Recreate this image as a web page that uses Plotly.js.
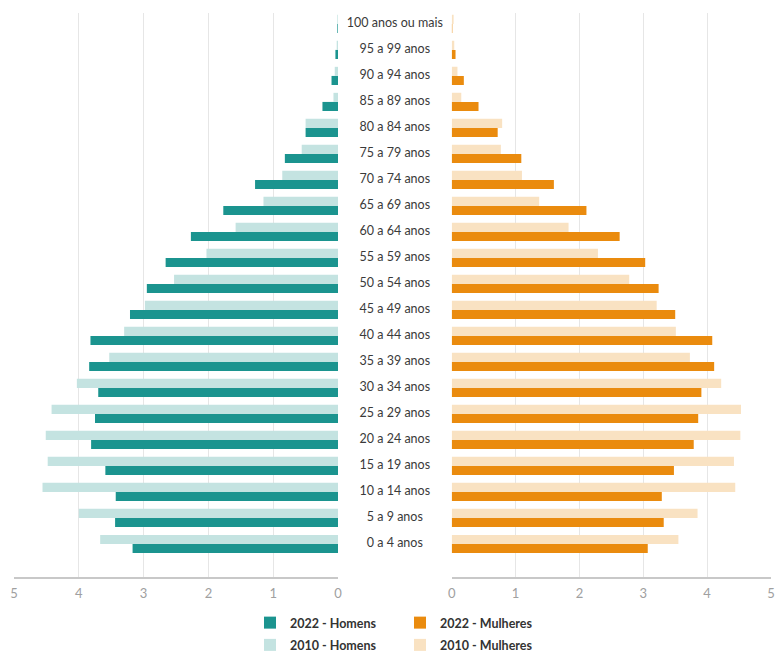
<!DOCTYPE html>
<html>
<head>
<meta charset="utf-8">
<script src="https://cdn.plot.ly/plotly-3.0.1.min.js"></script>
<style>html,body{margin:0;padding:0;background:#fff;}#chart{width:776px;height:656px;}</style>
</head>
<body>
<div id="chart"></div>
<script>
// Age groups, youngest to oldest (bottom to top)
const ageGroups = ["0 a 4 anos","5 a 9 anos","10 a 14 anos","15 a 19 anos","20 a 24 anos","25 a 29 anos","30 a 34 anos","35 a 39 anos","40 a 44 anos","45 a 49 anos","50 a 54 anos","55 a 59 anos","60 a 64 anos","65 a 69 anos","70 a 74 anos","75 a 79 anos","80 a 84 anos","85 a 89 anos","90 a 94 anos","95 a 99 anos","100 anos ou mais"];

// Percent of population
const homens2022   = [3.17,3.44,3.43,3.59,3.81,3.75,3.70,3.84,3.82,3.21,2.95,2.66,2.27,1.77,1.28,0.82,0.50,0.24,0.10,0.04,0.01];
const homens2010   = [3.67,4.00,4.56,4.48,4.51,4.42,4.03,3.53,3.30,2.98,2.53,2.03,1.58,1.15,0.86,0.56,0.50,0.07,0.05,0.02,0.01];
const mulheres2022 = [3.07,3.32,3.29,3.48,3.79,3.86,3.91,4.11,4.08,3.50,3.24,3.03,2.63,2.11,1.60,1.09,0.72,0.42,0.19,0.06,0.01];
const mulheres2010 = [3.55,3.85,4.44,4.42,4.52,4.53,4.22,3.73,3.51,3.21,2.78,2.29,1.83,1.37,1.10,0.77,0.79,0.15,0.09,0.04,0.03];

const xTicks = [0,1,2,3,4,5];

const cDarkTeal = "#1b948f", cLightTeal = "#c4e3e1", cOrange = "#ea8b0e", cPeach = "#f9e2c2";

const traces = [
  {type:"bar", orientation:"h", name:"2022 - Homens", y:ageGroups, x:homens2022, xaxis:"x", yaxis:"y",
   marker:{color:cDarkTeal}, legend:"legend", legendgroup:"h22", legendrank:1, hoverinfo:"x+y"},
  {type:"bar", orientation:"h", name:"2010 - Homens", y:ageGroups, x:homens2010, xaxis:"x", yaxis:"y",
   marker:{color:cLightTeal}, legend:"legend", legendgroup:"h10", legendrank:2, hoverinfo:"x+y"},
  {type:"bar", orientation:"h", name:"2022 - Mulheres", y:ageGroups, x:mulheres2022, xaxis:"x2", yaxis:"y",
   marker:{color:cOrange}, legend:"legend2", legendgroup:"m22", legendrank:1, hoverinfo:"x+y"},
  {type:"bar", orientation:"h", name:"2010 - Mulheres", y:ageGroups, x:mulheres2010, xaxis:"x2", yaxis:"y",
   marker:{color:cPeach}, legend:"legend2", legendgroup:"m10", legendrank:2, hoverinfo:"x+y"},
  {type:"scatter", mode:"text", y:ageGroups, x:ageGroups.map(() => 0), text:ageGroups,
   xaxis:"x3", yaxis:"y", showlegend:false, hoverinfo:"skip",
   textfont:{family:"Lato, sans-serif", size:12.5, color:"#3a3a3a"}}
];

const W = 776;
const axisCommon = {
  tickvals: xTicks, ticktext: xTicks.map(String), showgrid:true, gridcolor:"#e6e6e6", gridwidth:1,
  zeroline:false, showline:true, linecolor:"#c8c8c8", linewidth:2, ticks:"", ticklabelstandoff:3,
  ticklabeloverflow:"allow",
  tickfont:{family:"Lato, sans-serif", size:13, color:"#a0a0a0"}, fixedrange:true
};

const legendCommon = {
  xanchor:"left", y:(656-608)/656, yref:"container", yanchor:"top",
  orientation:"v", traceorder:"grouped", tracegroupgap:3, itemclick:false, itemdoubleclick:false,
  font:{family:"Lato, sans-serif", size:12.5, color:"#333", weight:700}, bgcolor:"rgba(0,0,0,0)"
};

const layout = {
  width: 776, height: 656,
  margin:{l:0, r:0, t:13, b:79},
  paper_bgcolor:"#fff", plot_bgcolor:"rgba(0,0,0,0)",
  barmode:"group", bargap:0.3, bargroupgap:0,
  showlegend:true,
  xaxis: Object.assign({}, axisCommon, {domain:[14/W, 338/W], range:[5,0]}),
  xaxis2: Object.assign({}, axisCommon, {domain:[451.7/W, 771/W], range:[0,5]}),
  xaxis3: {domain:[338/W, 451.7/W], range:[-1,1], visible:false, fixedrange:true},
  yaxis: {type:"category", categoryorder:"array", categoryarray:ageGroups, range:[-1.27, 20.42],
          showticklabels:false, showgrid:false, zeroline:false, showline:false, ticks:"", fixedrange:true},
  legend: Object.assign({}, legendCommon, {x:250/W}),
  legend2: Object.assign({}, legendCommon, {x:400/W})
};

Plotly.newPlot("chart", traces, layout, {displayModeBar:false, staticPlot:true});
</script>
</body>
</html>
